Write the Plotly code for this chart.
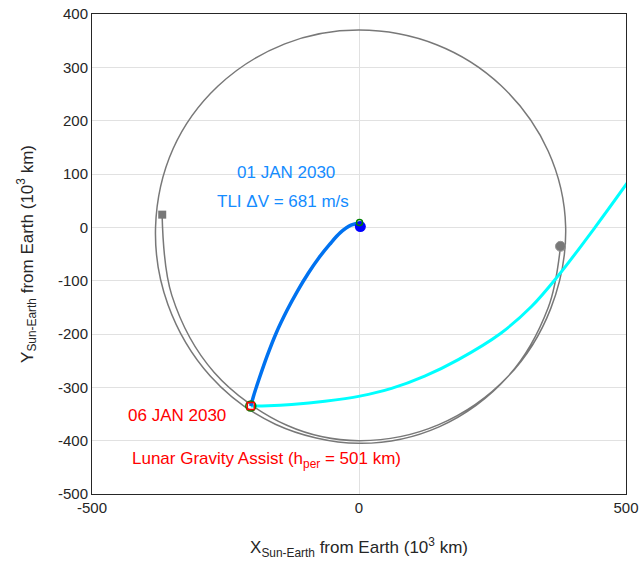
import numpy as np
import plotly.graph_objects as go

# Moon track (polar read-off, degrees / 10^3 km), ~1.5 revolutions
moon_theta_deg = [176.3, 200, 225, 250, 270, 292, 315, 337, 360, 382, 405, 427, 450,
                  472, 495, 517, 540, 562, 585, 607, 630, 652, 675, 697, 714.6]
moon_r = [369.5, 373, 384, 395, 400, 399, 395, 390, 387, 382, 376, 372, 370,
          371, 374, 378, 381, 386, 394, 401, 405, 403, 395, 385, 379]

# Trans-lunar trajectory (blue)
tli_x = [1.5, -15, -35, -55, -75, -95, -115, -135, -155, -172, -187, -198, -202.6]
tli_y = [8, 4, -10, -32, -57, -86, -119, -156, -198, -241, -284, -318, -335.2]

# Post-flyby trajectory (cyan)
out_x = [-202.6, -170, -126, -64, 1.5, 61, 123, 186, 265, 323, 372, 442, 505]
out_y = [-335.2, -334.5, -332, -326, -316.5, -302, -279, -248, -199, -148.5, -92, 0, 87]

moon_start = (-368.5, 23.8)
moon_end = (377.3, -35.6)
earth = (2.5, 1.5)
lga = (-202.6, -335.2)

x_ticks = [-500, 0, 500]
y_ticks = [-500, -400, -300, -200, -100, 0, 100, 200, 300, 400]

th = np.radians(moon_theta_deg)
moon_x = np.array(moon_r) * np.cos(th)
moon_y = np.array(moon_r) * np.sin(th)

FONT = "Liberation Sans, Arial, sans-serif"
GRAY = "rgb(120,120,120)"
DARK = "rgb(38,38,38)"

fig = go.Figure()
fig.add_trace(go.Scatter(x=moon_x, y=moon_y, mode="lines",
                         line=dict(color=GRAY, width=1.5, shape="spline", smoothing=1.0),
                         hoverinfo="skip"))
fig.add_trace(go.Scatter(x=out_x, y=out_y, mode="lines",
                         line=dict(color="#00FFFF", width=3, shape="spline", smoothing=1.0)))
fig.add_trace(go.Scatter(x=tli_x, y=tli_y, mode="lines",
                         line=dict(color="rgb(0,114,240)", width=3.5, shape="spline", smoothing=1.0)))
fig.add_trace(go.Scatter(x=[moon_start[0]], y=[moon_start[1]], mode="markers",
                         marker=dict(symbol="square", size=8, color=GRAY)))
fig.add_trace(go.Scatter(x=[moon_end[0]], y=[moon_end[1]], mode="markers",
                         marker=dict(symbol="circle", size=10, color=GRAY,
                                     line=dict(color="rgb(150,150,150)", width=1))))
fig.add_trace(go.Scatter(x=[earth[0]], y=[earth[1]], mode="markers",
                         marker=dict(symbol="circle", size=11, color="#0000FF")))
fig.add_trace(go.Scatter(x=[1], y=[9], mode="markers",
                         marker=dict(symbol="circle-open", size=6, color="green", line=dict(width=1.5))))
fig.add_trace(go.Scatter(x=[lga[0]], y=[lga[1]], mode="markers",
                         marker=dict(symbol="circle-open", size=10, color="green", line=dict(width=1.5))))
fig.add_trace(go.Scatter(x=[lga[0]], y=[lga[1]], mode="markers",
                         marker=dict(symbol="square-open", size=7, color="red", line=dict(width=1.5))))

BLUE_TXT = "rgb(20,140,255)"
ann = [
    dict(x=-136, y=103, text="01 JAN 2030", font=dict(color=BLUE_TXT, size=17)),
    dict(x=-143, y=49, text="TLI ΔV = 681 m/s", font=dict(color=BLUE_TXT, size=17)),
    dict(x=-340, y=-352, text="06 JAN 2030", font=dict(color="red", size=17)),
    dict(x=-173, y=-437, text="Lunar Gravity Assist (h<sub>per</sub> = 501 km)",
         font=dict(color="red", size=17)),
]
for a in ann:
    a.update(showarrow=False, xref="x", yref="y", xanchor="center", yanchor="middle")
    a["font"]["family"] = FONT

axis_common = dict(showline=True, mirror=True, linecolor=DARK, linewidth=1,
                   showgrid=True, gridcolor="rgb(225,225,225)", gridwidth=1,
                   zeroline=False, ticks="", automargin=False,
                   tickfont=dict(size=15, color=DARK, family=FONT))

fig.update_layout(
    width=640, height=565,
    margin=dict(l=92, r=14, t=14, b=71),
    paper_bgcolor="white", plot_bgcolor="white",
    showlegend=False,
    annotations=ann,
    font=dict(family=FONT),
    xaxis=dict(range=[-500, 500], tickmode="array", tickvals=x_ticks,
               ticktext=[str(v) for v in x_ticks],
               title=dict(text="X<sub>Sun-Earth</sub> from Earth (10<sup>3</sup> km)",
                          font=dict(size=17, color=DARK, family=FONT), standoff=26),
               **axis_common),
    yaxis=dict(range=[-500, 400], tickmode="array", tickvals=y_ticks,
               ticktext=[str(v) for v in y_ticks],
               title=dict(text="Y<sub>Sun-Earth</sub> from Earth (10<sup>3</sup> km)",
                          font=dict(size=17, color=DARK, family=FONT), standoff=20),
               **axis_common),
)

fig.write_html("out.html")
